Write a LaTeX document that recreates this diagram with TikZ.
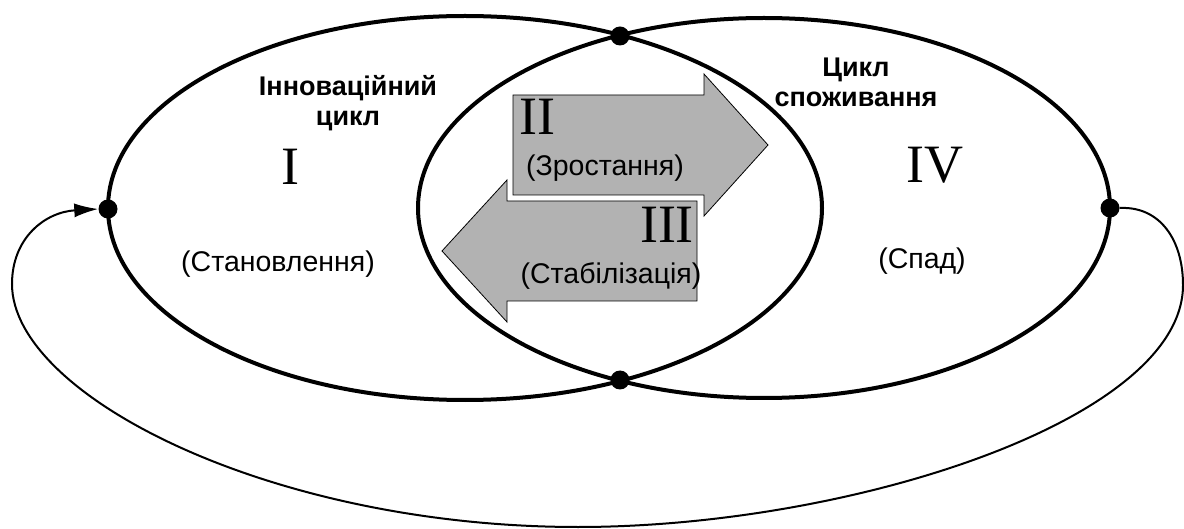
\documentclass[tikz,border=0pt]{standalone}
\usepackage{fontspec}
\setmainfont{Liberation Serif}
\newfontfamily\arialfont{Liberation Sans}
\usetikzlibrary{arrows.meta}
\begin{document}
\begin{tikzpicture}[x=1pt,y=-1pt,
  cycleline/.style={line width=4pt},
  joint/.style={circle,fill=black,inner sep=0pt,minimum size=19pt},
  phasearrow/.style={draw=black,line width=0.8pt,fill=black!30},
  roman/.style={inner sep=0pt,font=\fontsize{54}{54}\selectfont},
  phasename/.style={inner sep=0pt,font=\arialfont\fontsize{28.5}{32}\selectfont},
  cyclename/.style={inner sep=0pt,align=center,font=\arialfont\bfseries\fontsize{27}{30}\selectfont},
  returnline/.style={line width=2pt,-{Latex[length=24pt,width=14pt]}}]
\useasboundingbox (0,0) rectangle (1184,529);

% the two overlapping cycles
\draw[cycleline] (465,208) ellipse [x radius=357pt, y radius=192pt];
\draw[cycleline] (764,208) ellipse [x radius=346pt, y radius=190pt];

% transition points
\node[joint] (top) at (620,36) {};
\node[joint] (bottom) at (620,380) {};
\node[joint] (left) at (108,209) {};
\node[joint] (right) at (1110,208) {};

% phase arrows in the overlap
\draw[phasearrow] (513,95) -- (704,95) -- (704,74) -- (768,145) -- (704,216)
  -- (704,195) -- (513,195) -- cycle;
\draw[phasearrow] (697,201) -- (507,201) -- (507,180) -- (442,251) -- (507,322)
  -- (507,301) -- (697,301) -- cycle;

% cycle names
\node[cyclename] (innov) at (348,103) {Інноваційний\\цикл};
\node[cyclename] (consum) at (856,82) {Цикл\\споживання};

% phases
\node[roman] (p1) at (290,167) {I};
\node[phasename] (p1n) at (278,264) {(Становлення)};
\node[roman] (p2) at (537,117) {II};
\node[phasename] (p2n) at (605,168) {(Зростання)};
\node[roman] (p3) at (667,225) {III};
\node[phasename] (p3n) at (611,276) {(Стабілізація)};
\node[roman] (p4) at (935,165) {IV};
\node[phasename] (p4n) at (922,261) {(Спад)};

% return from decline to a new innovation cycle
\coordinate (r1) at (1183,285);
\coordinate (r2) at (578,527);
\coordinate (r3) at (12,284);
\draw[returnline] (right.east) .. controls (1160,206) and (1183,240) .. (r1)
  .. controls (1183,420) and (850,527) .. (r2)
  .. controls (270,527) and (12,395) .. (r3)
  .. controls (12,238) and (45,212) .. (left.west);
\end{tikzpicture}
\end{document}
